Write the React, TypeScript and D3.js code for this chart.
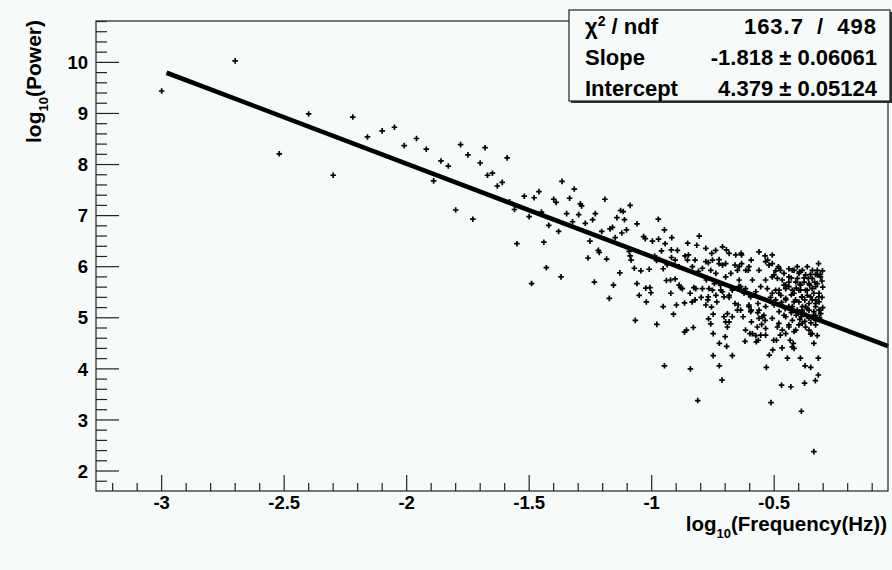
import React from "react";
import * as d3 from "d3";

// Log-log power spectrum with a linear fit (ROOT-style canvas)
const WIDTH = 892;
const HEIGHT = 570;

const xDomain: [number, number] = [-3.268, -0.0355];
const yDomain: [number, number] = [1.609, 10.81];
const xMajorTicks = [-3, -2.5, -2, -1.5, -1, -0.5];
const xTickLabels = ["-3", "-2.5", "-2", "-1.5", "-1", "-0.5"];
const yMajorTicks = [2, 3, 4, 5, 6, 7, 8, 9, 10];
const yTickLabels = ["2", "3", "4", "5", "6", "7", "8", "9", "10"];

// fit results
const fitSlope = -1.818;
const fitIntercept = 4.379;
const fitStart = -2.98;
const statNames = ["Slope", "Intercept"];
const statValues = ["-1.818 \u00b1 0.06061", "4.379 \u00b1 0.05124"];
const chi2Text = "163.7 / 498";

// [log10(frequency), log10(power)]
const spectrum: [number, number][] = [
  [-3.0, 9.44], [-2.7, 10.03], [-2.52, 8.21], [-2.4, 8.99], [-2.3, 7.79], [-2.22, 8.93], [-2.16, 8.54], [-2.1, 8.66],
  [-2.05, 8.73], [-2.01, 8.37], [-1.96, 8.51], [-1.92, 8.3], [-1.89, 7.68], [-1.86, 8.07], [-1.83, 7.97], [-1.8, 7.11],
  [-1.78, 8.39], [-1.75, 8.19], [-1.73, 6.93], [-1.7, 8.03], [-1.68, 8.33], [-1.67, 7.79], [-1.65, 7.83], [-1.63, 7.58],
  [-1.61, 7.65], [-1.59, 8.13], [-1.58, 7.27], [-1.56, 7.12], [-1.55, 6.45], [-1.52, 7.38], [-1.5, 6.98], [-1.49, 5.67],
  [-1.48, 7.35], [-1.46, 7.47], [-1.45, 7.07], [-1.44, 6.48], [-1.43, 5.98], [-1.42, 6.81], [-1.4, 7.32], [-1.39, 7.26],
  [-1.38, 6.69], [-1.37, 5.8],
  [-1.366, 7.67], [-1.316, 7.52], [-1.335, 7.34], [-1.291, 7.23], [-1.286, 7.19], [-1.191, 7.32], [-1.088, 7.2], [-1.347, 7.04],
  [-1.298, 7.02], [-1.23, 7.04], [-1.241, 6.92], [-1.127, 7.1], [-1.116, 7.08], [-1.142, 6.96], [-1.111, 6.92], [-1.06, 6.84],
  [-0.973, 6.93], [-1.323, 6.88], [-1.271, 6.85], [-1.204, 6.69], [-1.17, 6.74], [-1.16, 6.77], [-1.122, 6.66], [-1.103, 6.72],
  [-1.149, 6.57], [-1.252, 6.5], [-1.218, 6.32], [-1.214, 6.28], [-1.26, 6.17], [-1.184, 6.15], [-1.234, 5.7], [-1.156, 5.64],
  [-1.173, 5.38], [-1.13, 5.88], [-1.092, 6.3], [-1.088, 6.21], [-1.084, 6.13], [-1.071, 5.97], [-1.044, 5.92], [-1.01, 5.95],
  [-1.06, 5.67], [-1.051, 5.44], [-1.024, 5.58], [-1.007, 5.59], [-1.003, 5.49], [-1.022, 5.31], [-1.067, 4.95], [-0.979, 4.87],
  [-0.953, 5.22], [-0.948, 6.72], [-1.033, 6.59], [-1.026, 6.55], [-0.997, 6.5], [-0.972, 6.54], [-0.945, 6.45], [-0.918, 6.57],
  [-0.895, 6.32], [-0.853, 6.46], [-0.816, 6.42], [-0.806, 6.6], [-0.96, 6.31], [-0.969, 6.14], [-0.988, 6.21], [-0.98, 6.12],
  [-0.953, 5.96], [-0.937, 6.04], [-0.919, 6.18], [-0.904, 6.13], [-0.888, 6.0], [-0.94, 5.73], [-0.923, 5.74], [-0.904, 5.76],
  [-0.922, 5.48], [-0.888, 5.64], [-0.882, 5.59], [-0.899, 5.25], [-0.911, 5.07], [-0.866, 5.29], [-0.843, 5.48], [-0.828, 5.59],
  [-0.835, 5.31], [-0.823, 5.35], [-0.798, 5.4], [-0.779, 5.25], [-0.756, 5.21], [-0.768, 4.98], [-0.759, 4.88], [-0.866, 4.72],
  [-0.858, 4.76], [-0.83, 4.81], [-0.749, 4.69], [-0.749, 4.26], [-0.724, 4.5], [-0.7, 4.63], [-0.694, 4.44], [-0.671, 4.26],
  [-0.724, 4.06], [-0.713, 3.78], [-0.812, 3.38], [-0.842, 4.0], [-0.948, 4.06], [-0.619, 4.54], [-0.599, 4.69], [-0.575, 4.65],
  [-0.565, 4.56], [-0.513, 3.34], [-0.532, 4.03], [-0.52, 4.27], [-0.506, 4.37], [-0.502, 4.56], [-0.47, 3.68], [-0.432, 3.65],
  [-0.376, 3.72], [-0.389, 3.17], [-0.338, 2.38], [-0.332, 3.77], [-0.32, 3.88], [-0.351, 4.03], [-0.374, 4.06], [-0.393, 4.21],
  [-0.446, 4.21], [-0.426, 4.43], [-0.419, 4.4], [-0.422, 4.5], [-0.435, 4.56], [-0.468, 4.41], [-0.491, 4.56], [-0.475, 4.66],
  [-0.453, 4.69], [-0.338, 4.5], [-0.324, 4.65], [-0.351, 4.68], [-0.32, 4.21], [-0.535, 4.66], [-0.551, 4.87], [-0.593, 4.92],
  [-0.562, 4.99], [-0.537, 4.95], [-0.567, 5.1], [-0.548, 5.02], [-0.594, 5.15], [-0.627, 5.02], [-0.637, 5.15], [-0.647, 5.25],
  [-0.66, 5.28], [-0.603, 5.25], [-0.566, 5.28], [-0.535, 5.22], [-0.691, 5.08], [-0.705, 5.02], [-0.698, 4.92], [-0.671, 5.02],
  [-0.749, 5.07], [-0.734, 5.31], [-0.793, 5.57], [-0.771, 5.35], [-0.777, 5.74], [-0.744, 5.67], [-0.719, 5.64], [-0.759, 5.93],
  [-0.738, 5.87], [-0.698, 5.8], [-0.677, 5.87], [-0.643, 5.74], [-0.684, 6.26], [-0.657, 6.23], [-0.633, 6.23], [-0.594, 6.13],
  [-0.537, 6.21], [-0.527, 6.13], [-0.508, 6.06], [-0.483, 6.0], [-0.474, 5.93], [-0.426, 5.93], [-0.396, 5.9], [-0.319, 6.06],
  [-0.331, 5.85], [-0.312, 5.85], [-0.361, 5.77], [-0.378, 5.7], [-0.324, 5.67], [-0.345, 5.57], [-0.317, 5.48], [-0.365, 5.44],
  [-0.388, 5.41], [-0.331, 5.35], [-0.358, 5.28], [-0.317, 5.15], [-0.338, 5.12], [-0.372, 5.22], [-0.406, 5.15], [-0.44, 5.22],
  [-0.453, 5.02], [-0.426, 4.95], [-0.399, 4.86], [-0.372, 4.82], [-0.487, 4.82], [-0.508, 4.99], [-0.48, 5.12], [-0.494, 5.35],
  [-0.48, 5.54], [-0.453, 5.64], [-0.426, 5.54], [-0.412, 5.7], [-0.44, 5.8], [-0.508, 5.8], [-0.535, 5.74], [-0.562, 5.93],
  [-0.589, 5.74], [-0.616, 5.93], [-0.643, 6.0], [-0.725, 6.06], [-0.698, 6.06], [-0.755, 6.26], [-0.739, 6.32], [-0.779, 6.1],
  [-0.793, 5.97], [-0.809, 5.91], [-0.834, 6.0], [-0.854, 6.13], [-0.779, 6.36], [-0.711, 6.39], [-0.635, 6.26], [-0.603, 6.0],
  [-0.562, 6.29], [-0.508, 6.23], [-0.392, 5.64], [-0.355, 5.64], [-0.372, 5.54], [-0.338, 5.48], [-0.399, 5.31], [-0.378, 5.08],
  [-0.358, 4.99], [-0.331, 4.95], [-0.412, 4.76], [-0.44, 4.82],
  [-0.92, 6.33], [-0.695, 6.33], [-0.864, 6.21], [-0.85, 6.23], [-0.823, 6.13], [-0.769, 6.08], [-0.752, 6.13], [-0.725, 6.14],
  [-0.711, 6.03], [-0.66, 6.03], [-0.65, 5.93], [-0.633, 6.06], [-0.606, 5.93], [-0.535, 6.1], [-0.521, 6.03], [-0.494, 5.92],
  [-0.481, 5.97], [-0.501, 5.84], [-0.487, 5.77], [-0.467, 5.74], [-0.44, 5.7], [-0.419, 5.93], [-0.399, 5.87], [-0.46, 5.64],
  [-0.453, 5.57], [-0.372, 5.84], [-0.358, 5.67], [-0.345, 5.77], [-0.324, 5.84], [-0.331, 5.61], [-0.311, 5.8], [-0.365, 5.54],
  [-0.318, 5.41], [-0.386, 5.41], [-0.399, 5.54], [-0.413, 5.35], [-0.331, 5.22], [-0.311, 5.15], [-0.386, 5.15], [-0.426, 5.22],
  [-0.453, 5.35], [-0.481, 5.48], [-0.494, 5.54], [-0.875, 5.57], [-0.82, 5.57], [-0.766, 5.57], [-0.752, 5.54], [-0.711, 5.51],
  [-0.684, 5.4], [-0.644, 5.61], [-0.617, 5.57], [-0.769, 5.41], [-0.65, 5.15], [-0.603, 5.22], [-0.596, 5.12], [-0.562, 5.15],
  [-0.542, 5.05], [-0.684, 4.92], [-0.691, 4.82], [-0.617, 4.76], [-0.589, 4.69], [-0.569, 4.82], [-0.535, 4.79], [-0.481, 4.89],
  [-0.467, 4.76], [-0.44, 4.86], [-0.419, 4.73], [-0.386, 4.89], [-0.358, 4.76], [-0.331, 4.86], [-0.345, 4.69], [-0.555, 4.66],
  [-0.573, 4.53], [-0.46, 5.87], [-0.44, 5.96], [-0.406, 6.0], [-0.385, 5.93], [-0.344, 5.93], [-0.324, 5.93], [-0.365, 6.0],
  [-0.44, 5.61], [-0.419, 5.48], [-0.392, 5.54], [-0.351, 5.41], [-0.331, 5.28], [-0.317, 5.31], [-0.31, 5.08], [-0.331, 5.05],
  [-0.358, 5.15], [-0.385, 5.22], [-0.419, 5.31], [-0.453, 5.38], [-0.473, 5.44], [-0.508, 5.48], [-0.528, 5.57], [-0.555, 5.61],
  [-0.575, 5.51], [-0.596, 5.41], [-0.623, 5.48], [-0.637, 5.61], [-0.671, 5.54], [-0.684, 5.44], [-0.705, 5.41], [-0.718, 5.54],
  [-0.738, 5.44],
  [-0.47, 5.3], [-0.455, 5.18], [-0.43, 5.1], [-0.41, 5.05], [-0.395, 4.97], [-0.375, 4.93], [-0.35, 4.9], [-0.325, 4.99],
  [-0.315, 5.0], [-0.302, 5.2], [-0.305, 5.4], [-0.302, 5.6], [-0.305, 5.72], [-0.303, 5.92], [-0.335, 5.7], [-0.352, 5.85],
  [-0.378, 5.78], [-0.405, 5.77], [-0.43, 5.78], [-0.395, 5.66], [-0.41, 5.58], [-0.43, 5.45], [-0.375, 5.35], [-0.365, 5.18],
  [-0.345, 5.35], [-0.34, 5.05], [-0.39, 5.02], [-0.46, 5.05], [-0.5, 5.25], [-0.515, 5.4],
];

const FONT = "'Liberation Sans', Arial, Helvetica, sans-serif";
const INK = "#000";
const BG = "#f6faf8";

export default function App() {
  const frame = { left: 96, top: 21, right: 888, bottom: 491 };
  const x = d3.scaleLinear().domain(xDomain).range([frame.left, frame.right]);
  const y = d3.scaleLinear().domain(yDomain).range([frame.bottom, frame.top]);

  const xMinor = d3.range(-3.2, -0.05, 0.1).filter((v) => !xMajorTicks.some((m) => Math.abs(m - v) < 1e-6));
  const yMinor = d3.range(1.8, 10.85, 0.2).filter((v) => !yMajorTicks.some((m) => Math.abs(m - v) < 1e-6));

  const fitLine = d3
    .line<number>()
    .x((v) => x(v))
    .y((v) => y(fitIntercept + fitSlope * v));
  const fitPath = fitLine([fitStart, xDomain[1]]) || "";

  const marker = "M-2.8,0H2.8M0,-2.8V2.8";

  const box = { left: 569, top: 10, right: 890, bottom: 101 };

  return (
    <svg
      width={WIDTH}
      height={HEIGHT}
      style={{ position: "absolute", left: 0, top: 0, display: "block" }}
      fontFamily={FONT}
    >
      <rect x={0} y={0} width={WIDTH} height={HEIGHT} fill={BG} />

      {/* data points */}
      <g stroke={INK} strokeWidth={1.7}>
        {spectrum.map(([f, p], i) => (
          <path key={i} d={marker} transform={`translate(${x(f)},${y(p)})`} />
        ))}
      </g>

      {/* fit */}
      <path d={fitPath} stroke={INK} strokeWidth={4.6} fill="none" />

      {/* frame */}
      <rect
        x={frame.left}
        y={frame.top}
        width={frame.right - frame.left}
        height={frame.bottom - frame.top}
        fill="none"
        stroke="#222"
        strokeWidth={1.2}
      />

      {/* axis ticks */}
      <g stroke="#222" strokeWidth={1.2}>
        {xMajorTicks.map((t) => (
          <line key={`xM${t}`} x1={x(t)} x2={x(t)} y1={frame.bottom} y2={frame.bottom - 16} />
        ))}
        {xMinor.map((t) => (
          <line key={`xm${t}`} x1={x(t)} x2={x(t)} y1={frame.bottom} y2={frame.bottom - 8} />
        ))}
        {yMajorTicks.map((t) => (
          <line key={`yM${t}`} x1={frame.left} x2={frame.left + 23} y1={y(t)} y2={y(t)} />
        ))}
        {yMinor.map((t) => (
          <line key={`ym${t}`} x1={frame.left} x2={frame.left + 11} y1={y(t)} y2={y(t)} />
        ))}
      </g>

      <g fill={INK} fontWeight="bold" fontSize={18.5}>
        {xMajorTicks.map((t, i) => (
          <text key={`xl${t}`} x={x(t)} y={509} textAnchor="middle">
            {xTickLabels[i]}
          </text>
        ))}
        {yMajorTicks.map((t, i) => (
          <text key={`yl${t}`} x={88} y={y(t)} dy="0.36em" textAnchor="end">
            {yTickLabels[i]}
          </text>
        ))}
      </g>

      {/* axis titles */}
      <text x={887} y={531} textAnchor="end" fontWeight="bold" fontSize={20.5} fill={INK}>
        log
        <tspan fontSize={13} dy={7}>10</tspan>
        <tspan dy={-7}>(Frequency(Hz))</tspan>
      </text>
      <text
        transform="translate(41,20) rotate(-90)"
        textAnchor="end"
        fontWeight="bold"
        fontSize={21}
        fill={INK}
      >
        log
        <tspan fontSize={13} dy={7}>10</tspan>
        <tspan dy={-7}>(Power)</tspan>
      </text>

      {/* stats box */}
      <rect
        x={box.left + 2}
        y={box.top + 2}
        width={box.right - box.left}
        height={box.bottom - box.top}
        fill="#333"
      />
      <rect
        x={box.left}
        y={box.top}
        width={box.right - box.left}
        height={box.bottom - box.top}
        fill={BG}
        stroke="#222"
        strokeWidth={1.2}
      />
      <g fill={INK} fontWeight="bold" fontSize={22}>
        <text x={585} y={34}>
          {"\u03c7"}
          <tspan fontSize={14} dy={-8}>2</tspan>
          <tspan dy={8}>{" / ndf"}</tspan>
        </text>
        <text x={877} y={34} textAnchor="end" wordSpacing={6} letterSpacing={1}>
          {chi2Text}
        </text>
        {statNames.map((n, i) => (
          <React.Fragment key={n}>
            <text x={585} y={65 + i * 31}>
              {n}
            </text>
            <text x={877} y={65 + i * 31} textAnchor="end">
              {statValues[i]}
            </text>
          </React.Fragment>
        ))}
      </g>
    </svg>
  );
}
